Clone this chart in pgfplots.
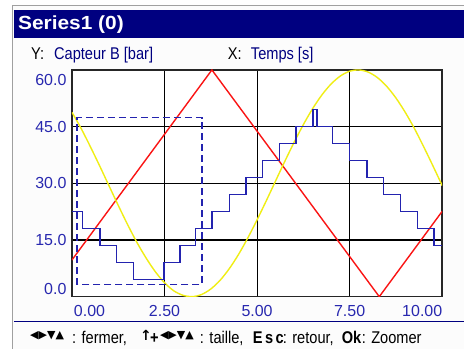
\documentclass[border=0pt]{standalone}
\usepackage{fontspec}
\setmainfont{Liberation Sans}
\newfontfamily\symfont{DejaVu Sans}
\usepackage{graphicx}
\usepackage{pgfplots}
\pgfplotsset{compat=1.18}
\definecolor{navy}{RGB}{0,0,128}
\definecolor{tickblue}{RGB}{40,40,175}
\definecolor{stepblue}{RGB}{35,35,175}
\definecolor{sinyellow}{RGB}{240,238,20}
\definecolor{sinred}{RGB}{250,20,20}
\definecolor{winback}{RGB}{252,252,252}
\definecolor{wingrey}{RGB}{160,160,160}
\newcommand{\nx}[1]{\scalebox{0.86}[1]{#1}}

\begin{document}
\begin{tikzpicture}[x=1pt,y=1pt]
\fill[white] (0,0) rectangle (464,349);
\fill[winback] (13,0) rectangle (464,343);
\draw[wingrey, line width=1pt] (13,0) -- (13,343) -- (464,343);
\fill[navy] (14,311) rectangle (464,339);
\node[anchor=base west, inner sep=0pt, text=white, font=\fontsize{19}{19}\selectfont\bfseries] at (18,319) {\scalebox{1.1}[1]{Series1 (0)}};

\node[anchor=base west, inner sep=0pt, font=\fontsize{17}{17}\selectfont] at (31,289) {\nx{Y:}};
\node[anchor=base west, inner sep=0pt, text=navy, font=\fontsize{17}{17}\selectfont] at (54,289) {\nx{Capteur B [bar]}};
\node[anchor=base west, inner sep=0pt, font=\fontsize{17}{17}\selectfont] at (228,289) {\nx{X:}};
\node[anchor=base west, inner sep=0pt, text=navy, font=\fontsize{17}{17}\selectfont] at (251,289) {\nx{Temps [s]}};

\begin{axis}[
  at={(72pt,52pt)}, anchor=south west,
  scale only axis, width=370.7pt, height=227pt,
  xmin=0, xmax=10, ymin=0, ymax=60,
  xtick={0,2.5,5,7.5,10},
  xticklabels={\makebox[0pt][l]{\hspace{2pt}0.00},2.50,5.00,7.50,\makebox[0pt][r]{10.00}},
  ytick={0,15,30,45,60},
  yticklabels={\raisebox{8pt}[\height][\depth]{0.0},15.0,30.0,45.0,\raisebox{-10pt}[\height][\depth]{60.0}},
  grid=major,
  major grid style={black, line width=1.1pt},
  major tick length=0pt,
  axis line style={black!85, line width=1.5pt},
  tick label style={font=\fontsize{16}{16}\selectfont, text=tickblue},
  yticklabel style={inner sep=0pt, anchor=east, xshift=-5.3pt},
  xticklabel style={inner sep=0pt, anchor=north, yshift=-8pt},
  axis background/.style={fill=white},
]
\addplot[draw=sinred, line width=1.4pt] coordinates {(0,9.7) (3.78,60) (8.3,0) (10,22.6)};
\addplot[draw=sinyellow, line width=1.4pt, smooth] coordinates {
(0,48.80) (0.25,44.48) (0.5,39.65) (0.75,34.59) (1.0,29.37) (1.25,24.18) (1.5,19.15) (1.75,14.45)
(2.0,10.28) (2.25,6.63) (2.5,3.69) (2.75,1.56) (3.0,0.36) (3.25,0.01) (3.5,0.57) (3.75,2.03)
(4.0,4.32) (4.25,7.42) (4.5,11.19) (4.75,15.55) (5.0,20.33) (5.25,25.41) (5.5,30.63) (5.75,35.83)
(6.0,40.84) (6.25,45.53) (6.5,49.76) (6.75,53.38) (7.0,56.29) (7.25,58.40) (7.5,59.65) (7.75,59.99)
(8.0,59.43) (8.25,57.97) (8.5,55.66) (8.75,52.57) (9.0,48.80) (9.25,44.48) (9.5,39.65) (9.75,34.59) (10,29.37)};
\addplot[draw=stepblue, line width=1.4pt, const plot] coordinates {
(0,22.5) (0.29,18) (0.76,13.5) (1.21,9) (1.66,4.5) (2.49,9) (2.92,13.5) (3.33,18) (3.78,22.5)
(4.25,27) (4.70,31.5) (5.15,36) (5.60,40.5) (6.05,45) (6.51,49.5) (6.62,45) (7.04,40.5) (7.50,36)
(7.97,31.5) (8.42,27) (8.87,22.5) (9.33,18) (9.78,13.5) (10,13.5)};
\addplot[draw=stepblue, line width=1.4pt, dash pattern=on 7pt off 4pt] coordinates {
(0.14,3.2) (0.14,47.4) (3.51,47.4) (3.51,3.2) (0.14,3.2)};
\end{axis}

\draw[navy, line width=1pt] (14,27) -- (464,27);
\node[anchor=west, inner sep=0pt, font=\symfont\fontsize{11}{11}\selectfont] at (30,13) {◀▶▼▲};
\node[anchor=base west, inner sep=0pt, font=\fontsize{17}{17}\selectfont] at (72,5) {\nx{: fermer,}};
\node[anchor=west, inner sep=0pt, font=\symfont\fontsize{14}{14}\selectfont\bfseries] at (140,13) {↑};
\node[anchor=base west, inner sep=0pt, font=\fontsize{17}{17}\selectfont\bfseries] at (150,5) {\nx{+}};
\node[anchor=west, inner sep=0pt, font=\symfont\fontsize{11}{11}\selectfont] at (160,13) {◀▶▼▲};
\node[anchor=base west, inner sep=0pt, font=\fontsize{17}{17}\selectfont] at (200,5) {\nx{: taille,}};
\node[anchor=base west, inner sep=0pt, font=\fontsize{17}{17}\selectfont\bfseries] at (253,5) {\nx{E\,s\,c}};
\node[anchor=base west, inner sep=0pt, font=\fontsize{17}{17}\selectfont] at (283,5) {\nx{: retour,}};
\node[anchor=base west, inner sep=0pt, font=\fontsize{17}{17}\selectfont\bfseries] at (342,5) {\nx{Ok}};
\node[anchor=base west, inner sep=0pt, font=\fontsize{17}{17}\selectfont] at (362,5) {\nx{: Zoomer}};
\end{tikzpicture}
\end{document}
